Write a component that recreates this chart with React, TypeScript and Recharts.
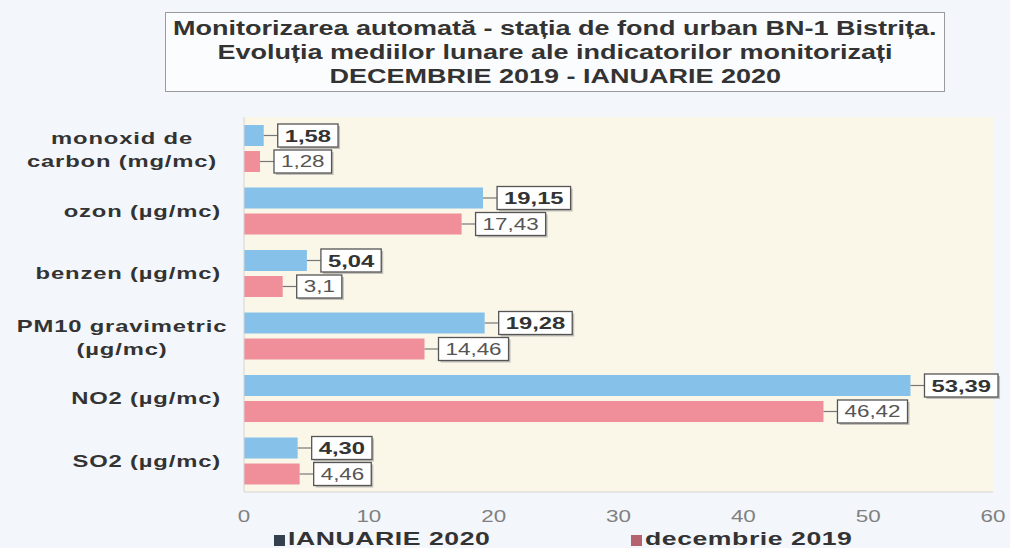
import React from "react"
import { BarChart, Bar, XAxis, YAxis, CartesianGrid, Legend, LabelList } from "recharts"

const categories = [
  "monoxid de\ncarbon (mg/mc)",
  "ozon (µg/mc)",
  "benzen (µg/mc)",
  "PM10 gravimetric\n(µg/mc)",
  "NO2 (µg/mc)",
  "SO2 (µg/mc)",
]
const ianuarie2020 = [1.58, 19.15, 5.04, 19.28, 53.39, 4.3]
const decembrie2019 = [1.28, 17.43, 3.1, 14.46, 46.42, 4.46]
const ianuarieLabels = ["1,58", "19,15", "5,04", "19,28", "53,39", "4,30"]
const decembrieLabels = ["1,28", "17,43", "3,1", "14,46", "46,42", "4,46"]
const xTicks = [0, 10, 20, 30, 40, 50, 60]

const data = categories.map((name, i) => ({
  name,
  ian: ianuarie2020[i],
  dec: decembrie2019[i],
}))

const FONT = "'Liberation Sans', Arial, sans-serif"
const BLUE = "#86c1ea"
const RED = "#f08f9a"
// the scanned original is stretched sideways, so text is widened to match
const SX = 1.4

function CategoryTick({ y, payload }: any) {
  const lines = String(payload.value).split("\n")
  const common = { fontFamily: FONT, fontSize: 17, fontWeight: "bold", fill: "#333", letterSpacing: 0.6 }
  if (lines.length === 1) {
    return (
      <g transform={`translate(221 ${y}) scale(${SX} 1)`}>
        <text x={0} y={0} dy={6} textAnchor="end" {...common}>{lines[0]}</text>
      </g>
    )
  }
  return (
    <g transform={`translate(122 ${y}) scale(${SX} 1)`}>
      <text x={0} y={0} textAnchor="middle" {...common}>
        {lines.map((l, i) => (
          <tspan key={i} x={0} dy={i === 0 ? -4 : 23}>{l}</tspan>
        ))}
      </text>
    </g>
  )
}

function ValueTick({ x, y, payload }: any) {
  return (
    <g transform={`translate(${x} ${y}) scale(${SX} 1)`}>
      <text x={0} y={0} dy={22} textAnchor="middle" fontFamily={FONT} fontSize={16} fill="#808080">
        {payload.value}
      </text>
    </g>
  )
}

function textWidth(s: string, size: number) {
  let w = 0
  for (const c of s) w += c === "," || c === " " ? size * 0.278 : size * 0.556
  return w * SX
}

function makeLabel(labels: string[], bold: boolean) {
  return (props: any) => {
    const { x, y, width, height, index } = props
    const text = labels[index]
    const size = bold ? 17 : 16
    const end = x + width
    const gap = 14
    const boxW = textWidth(text, size) + 14
    const boxH = 23
    const cy = y + height / 2
    const bx = end + gap
    return (
      <g>
        <line x1={end} y1={cy} x2={bx} y2={cy} stroke="#777" strokeWidth={1.2} />
        <rect x={bx + 2} y={cy - boxH / 2 + 2} width={boxW} height={boxH} fill="#8a8a8a" opacity={0.5} />
        <rect x={bx} y={cy - boxH / 2} width={boxW} height={boxH} fill="#fff" stroke="#555" strokeWidth={1.3} />
        <g transform={`translate(${bx + boxW / 2} ${cy}) scale(${SX} 1)`}>
          <text
            x={0}
            y={0}
            dy={bold ? 6 : 5.5}
            textAnchor="middle"
            fontFamily={FONT}
            fontSize={size}
            fontWeight={bold ? "bold" : "normal"}
            fill={bold ? "#333" : "#555"}
          >
            {text}
          </text>
        </g>
      </g>
    )
  }
}

function LegendContent() {
  const items = [
    { label: "IANUARIE 2020", color: "#34404e", width: 357 },
    { label: "decembrie 2019", color: "#b5636f", width: 300 },
  ]
  return (
    <div style={{ height: 26, overflow: "hidden", display: "flex", paddingLeft: 274, fontFamily: FONT }}>
      {items.map((it) => (
        <div key={it.label} style={{ width: it.width, display: "flex", alignItems: "flex-end", height: 26 }}>
          <span style={{ width: 11, height: 11, background: it.color, display: "inline-block", marginRight: 3, marginBottom: 2 }} />
          <span
            style={{
              fontSize: 19,
              fontWeight: "bold",
              color: "#333",
              lineHeight: "19px",
              letterSpacing: 0.4,
              display: "inline-block",
              transform: `scaleX(${SX})`,
              transformOrigin: "left center",
              whiteSpace: "nowrap",
            }}
          >
            {it.label}
          </span>
        </div>
      ))}
    </div>
  )
}

const titleLines = [
  "Monitorizarea automată - stația de fond urban BN-1 Bistrița.",
  "Evoluția mediilor lunare ale indicatorilor monitorizați",
  "DECEMBRIE 2019 - IANUARIE 2020",
]

export default function App() {
  return (
    <div style={{ position: "absolute", left: 0, top: 0, width: 1010, height: 548, background: "#f3f6fa", overflow: "hidden" }}>
      <div
        style={{
          position: "absolute",
          left: 165,
          top: 12,
          width: 778,
          height: 75,
          border: "1px solid #9a9a9a",
          background: "#fbfcfd",
          textAlign: "center",
          fontFamily: FONT,
          fontWeight: "bold",
          fontSize: 20,
          lineHeight: "24px",
          color: "#333",
          paddingTop: 3,
          zIndex: 2,
        }}
      >
        {titleLines.map((t) => (
          <div key={t}>
            <span style={{ display: "inline-block", transform: "scaleX(1.35)", whiteSpace: "nowrap" }}>{t}</span>
          </div>
        ))}
      </div>
      <BarChart
        width={1010}
        height={548}
        data={data}
        layout="vertical"
        margin={{ top: 117, right: 17, bottom: 0, left: 0 }}
        barSize={21}
        barGap={5}
      >
        <CartesianGrid horizontal={false} vertical={false} fill="#fbf7e8" />
        <XAxis
          type="number"
          domain={[0, 60]}
          ticks={xTicks}
          height={30}
          tickLine={false}
          axisLine={{ stroke: "#d4d4d4" }}
          tick={<ValueTick />}
        />
        <YAxis
          type="category"
          dataKey="name"
          width={244}
          tickLine={false}
          axisLine={{ stroke: "#d4d4d4" }}
          tick={<CategoryTick />}
          interval={0}
        />
        <Legend verticalAlign="bottom" content={<LegendContent />} />
        <Bar dataKey="ian" fill={BLUE} isAnimationActive={false}>
          <LabelList dataKey="ian" content={makeLabel(ianuarieLabels, true)} />
        </Bar>
        <Bar dataKey="dec" fill={RED} isAnimationActive={false}>
          <LabelList dataKey="dec" content={makeLabel(decembrieLabels, false)} />
        </Bar>
      </BarChart>
    </div>
  )
}
